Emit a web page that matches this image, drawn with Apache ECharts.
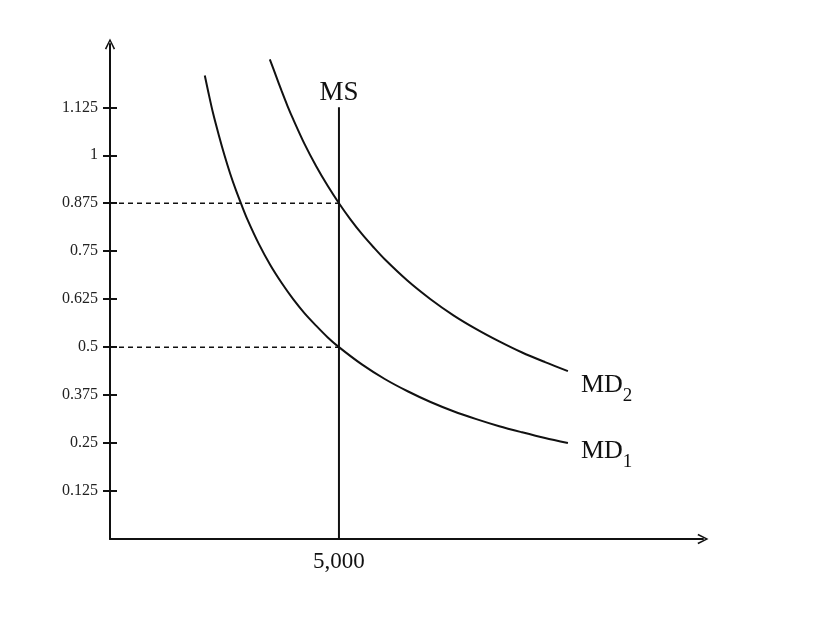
<!DOCTYPE html>
<html>
<head>
<meta charset="utf-8">
<script src="https://cdn.jsdelivr.net/npm/echarts@6/dist/echarts.min.js"></script>
<style>
  html, body { margin: 0; padding: 0; background: #fff; }
  #main { width: 840px; height: 618px; }
</style>
</head>
<body>
<div id="main"></div>
<script>
// 纵轴刻度
var yTicks = [0.125, 0.25, 0.375, 0.5, 0.625, 0.75, 0.875, 1, 1.125];
// 横轴刻度
var xTicks = [5000];

// MD1 需求曲线 (数量, 利率)
var md1 = [
  [2070, 1.208], [2150, 1.163], [2250, 1.11], [2375, 1.053], [2500, 1.0],
  [2625, 0.952], [2750, 0.909], [2875, 0.87], [3000, 0.833], [3250, 0.769],
  [3500, 0.714], [3750, 0.667], [4000, 0.625], [4250, 0.588], [4500, 0.556],
  [4750, 0.526], [5000, 0.5], [5500, 0.455], [6000, 0.417], [6500, 0.385],
  [7000, 0.357], [7500, 0.333], [8000, 0.3125], [8500, 0.294], [9000, 0.278],
  [9500, 0.263], [10000, 0.25]
];
// MD2 需求曲线
var md2 = [
  [3490, 1.25], [3625, 1.207], [3750, 1.167], [3875, 1.129], [4000, 1.094],
  [4250, 1.029], [4500, 0.972], [4750, 0.921], [5000, 0.875], [5250, 0.833],
  [5500, 0.795], [5750, 0.761], [6000, 0.729], [6500, 0.673], [7000, 0.625],
  [7500, 0.583], [8000, 0.547], [8500, 0.515], [9000, 0.486], [9500, 0.461],
  [10000, 0.4375]
];
// MS 货币供给
var ms = [[5000, 0], [5000, 1.125]];
// 虚线
var dash1 = [[0, 0.875], [5000, 0.875]];
var dash2 = [[0, 0.5], [5000, 0.5]];

var font = "'Liberation Serif', 'Times New Roman', serif";
var ink = '#111';
var arrow = 'path://M0,10 L5,0 L10,10 L8.6,10.7 L5,3 L1.4,10.7 Z';

var myChart = echarts.init(document.getElementById('main'));

var mdLabel = function (sub, dy) {
  return {
    show: true,
    offset: [5, dy],
    formatter: '{m|MD}{s|' + sub + '}',
    rich: {
      m: { fontFamily: font, fontSize: 26, color: ink },
      s: { fontFamily: font, fontSize: 19, color: ink, padding: [22, 0, 0, 0] }
    }
  };
};

var option = {
  animation: false,
  grid: { left: 110, right: 137, top: 44, bottom: 79 },
  xAxis: {
    type: 'value',
    min: 0,
    max: 12950,
    splitLine: { show: false },
    axisLine: {
      lineStyle: { color: ink, width: 2 },
      symbol: ['none', arrow],
      symbolSize: [11, 11]
    },
    axisTick: { show: false },
    axisLabel: {
      customValues: xTicks,
      fontFamily: font,
      fontSize: 23,
      color: ink,
      margin: 11
    }
  },
  yAxis: [
    {
      type: 'value',
      min: 0,
      max: 1.29,
      splitLine: { show: false },
      axisLine: {
        lineStyle: { color: ink, width: 2 },
        symbol: ['none', arrow],
        symbolSize: [11, 11]
      },
      axisTick: { customValues: yTicks, length: 7, lineStyle: { width: 2, color: ink } },
      axisLabel: {
        customValues: yTicks,
        fontFamily: font,
        fontSize: 16,
        color: '#222',
        margin: 12
      }
    },
    {
      type: 'value',
      position: 'left',
      min: 0,
      max: 1.29,
      splitLine: { show: false },
      axisLine: { show: false },
      axisTick: { customValues: yTicks, inside: true, length: 7, lineStyle: { width: 2, color: ink } },
      axisLabel: { show: false }
    }
  ],
  series: [
    {
      type: 'line', data: md1, smooth: 0.3, showSymbol: false,
      lineStyle: { color: ink, width: 2 },
      endLabel: mdLabel('1', 8)
    },
    {
      type: 'line', data: md2, smooth: 0.3, showSymbol: false,
      lineStyle: { color: ink, width: 2 },
      endLabel: mdLabel('2', 14)
    },
    {
      type: 'line', symbolSize: 0, showSymbol: true,
      lineStyle: { color: ink, width: 2 },
      data: [
        ms[0],
        {
          value: ms[1],
          label: {
            show: true, position: 'top', distance: 1, formatter: 'MS',
            fontFamily: font, fontSize: 27, color: ink
          }
        }
      ]
    },
    {
      type: 'line', data: dash1, showSymbol: false,
      lineStyle: { color: ink, width: 1.5, type: [5, 4] }
    },
    {
      type: 'line', data: dash2, showSymbol: false,
      lineStyle: { color: ink, width: 1.5, type: [5, 4] }
    }
  ]
};

myChart.setOption(option);
</script>
</body>
</html>
